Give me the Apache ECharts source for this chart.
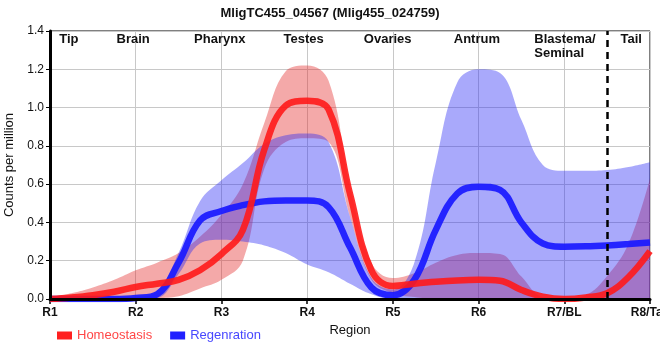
<!DOCTYPE html>
<html><head><meta charset="utf-8">
<script src="https://cdn.jsdelivr.net/npm/echarts@6/dist/echarts.min.js"></script>
<style>html,body{margin:0;padding:0;background:#fff}#c{width:660px;height:360px}</style>
</head><body><div id="c"></div>
<script>
// sample positions along the region axis (1 = R1 ... 8 = R8/Tail)
const xPos = [1,1.25,1.5,1.75,2,2.25,2.5,2.75,3,3.25,3.5,3.75,4,4.25,4.5,4.75,5,5.25,5.5,5.75,6,6.25,6.5,6.75,7,7.25,7.5,7.75,8];
const tickLabels = ['R1','R2','R3','R4','R5','R6','R7/BL','R8/Tail'];
const regionNames = ['Tip','Brain','Pharynx','Testes','Ovaries','Antrum','Blastema/\nSeminal','Tail'];

const homMean  = [0.0,0.008,0.02,0.038,0.063,0.08,0.1,0.15,0.235,0.36,0.78,1.01,1.035,0.99,0.55,0.15,0.068,0.08,0.09,0.097,0.1,0.095,0.047,0.012,0.0,0.008,0.03,0.115,0.25];
const homUpper = [0.01,0.03,0.06,0.1,0.15,0.19,0.24,0.325,0.44,0.6,0.92,1.19,1.22,1.14,0.59,0.19,0.11,0.135,0.19,0.23,0.24,0.235,0.117,0.01,0.003,0.02,0.12,0.29,0.63];
const homLower = [0,0,0,0,0,0.005,0.015,0.055,0.1,0.2,0.68,0.82,0.84,0.82,0.43,0.1,0.03,0.01,0,0,0,0,0,0,0,0,0,0,0];

const regMean  = [0,0,0,0,0.005,0.025,0.19,0.41,0.46,0.49,0.51,0.515,0.515,0.48,0.27,0.06,0.02,0.1,0.36,0.55,0.587,0.57,0.4,0.29,0.273,0.275,0.28,0.287,0.295];
const regUpper = [0.005,0.005,0.005,0.008,0.012,0.04,0.24,0.51,0.62,0.71,0.81,0.855,0.865,0.82,0.43,0.11,0.05,0.19,0.71,1.13,1.2,1.18,0.935,0.7,0.67,0.67,0.674,0.69,0.715];
const regLower = [0,0,0,0,0,0.005,0.13,0.29,0.31,0.3,0.28,0.24,0.18,0.14,0.08,0.025,0,0,0,0,0,0,0,0,0,0,0,0,0];

const FONT = '"Liberation Sans", Arial, sans-serif';
const cats = xPos.map(String);
const diff = (up, lo) => up.map((u, i) => Math.max(0, u - lo[i]));
const isMain = (idx) => Number.isInteger(xPos[idx]);
const SM = 0.4;

const chart = echarts.init(document.getElementById('c'), null, {renderer: 'canvas'});
const option = {
  animation: false,
  backgroundColor: '#fff',
  title: {
    text: 'MligTC455_04567 (Mlig455_024759)',
    left: 'center', top: 2,
    textStyle: {fontFamily: FONT, fontSize: 13, fontWeight: 'bold', color: '#111'}
  },
  legend: {
    left: 52, top: 324, icon: 'rect', itemWidth: 15, itemHeight: 8, itemGap: 18,
    textStyle: {fontFamily: FONT, fontSize: 13},
    data: [
      {name: 'Homeostasis', textStyle: {color: '#ff4747'}},
      {name: 'Regenration', textStyle: {color: '#4747ff'}}
    ]
  },
  grid: {left: 50, right: 10, top: 31, bottom: 61, containLabel: false, outerBoundsMode: 'none',
    show: true, borderColor: '#000', borderWidth: 1, backgroundColor: 'transparent'},
  xAxis: [{
    type: 'category', data: cats, boundaryGap: false,
    name: 'Region', nameLocation: 'middle', nameGap: 25,
    nameTextStyle: {fontFamily: FONT, fontSize: 13, color: '#111'},
    axisLine: {show: false},
    axisTick: {show: true, length: 5, interval: isMain, lineStyle: {color: '#000', width: 1.5}},
    axisLabel: {fontFamily: FONT, fontSize: 12, fontWeight: 'bold', color: '#111', margin: 8,
      interval: isMain, formatter: v => tickLabels[Math.round(Number(v)) - 1] || ''},
    splitLine: {show: true, interval: isMain, lineStyle: {color: '#c8c8c8', width: 1}}
  }, {
    type: 'value', min: 0, max: 1, position: 'bottom', offset: 0, z: 10,
    axisLine: {show: true, onZero: false, lineStyle: {color: '#000', width: 3}},
    axisTick: {show: false}, axisLabel: {show: false}, splitLine: {show: false}
  }],
  yAxis: [{
    type: 'value', min: 0, max: 1.4, interval: 0.2,
    name: 'Counts per million', nameLocation: 'middle', nameGap: 28,
    nameTextStyle: {fontFamily: FONT, fontSize: 13, color: '#111'},
    axisLine: {show: false},
    axisTick: {show: true, length: 4, lineStyle: {color: '#000'}},
    axisLabel: {fontFamily: FONT, fontSize: 12, color: '#111', margin: 6,
      formatter: v => v.toFixed(1)},
    splitLine: {show: true, lineStyle: {color: '#c8c8c8', width: 1}}
  }, {
    type: 'value', min: 0, max: 1.4, position: 'left', offset: 0, z: 10,
    axisLine: {show: true, onZero: false, lineStyle: {color: '#000', width: 3}},
    axisTick: {show: false}, axisLabel: {show: false}, splitLine: {show: false}
  }],
  series: [
    {name: 'homLo', type: 'line', stack: 'hom', smooth: SM, symbol: 'none', silent: true,
      lineStyle: {opacity: 0, width: 0}, data: homLower},
    {name: 'homBand', type: 'line', stack: 'hom', smooth: SM, symbol: 'none', silent: true,
      lineStyle: {opacity: 0, width: 0}, areaStyle: {color: 'rgba(228,40,40,0.40)', opacity: 1},
      data: diff(homUpper, homLower)},
    {name: 'regLo', type: 'line', stack: 'reg', smooth: SM, symbol: 'none', silent: true,
      lineStyle: {opacity: 0, width: 0}, data: regLower},
    {name: 'regBand', type: 'line', stack: 'reg', smooth: SM, symbol: 'none', silent: true,
      lineStyle: {opacity: 0, width: 0}, areaStyle: {color: 'rgba(40,40,245,0.40)', opacity: 1},
      data: diff(regUpper, regLower)},
    {name: 'Regenration', type: 'line', smooth: SM, symbol: 'none', color: '#2020ff',
      lineStyle: {width: 6.5, color: 'rgba(25,25,255,0.92)'}, data: regMean},
    {name: 'Homeostasis', type: 'line', smooth: SM, symbol: 'none', color: '#ff2020',
      lineStyle: {width: 6.5, color: 'rgba(255,25,25,0.9)'}, data: homMean,
      markLine: {silent: true, symbol: 'none', label: {show: false},
        lineStyle: {color: '#000', type: [7, 5], width: 2.5},
        data: [{xAxis: '7.5'}]}}
  ]
};
chart.setOption(option);

// region annotations anchored to the region axis (in units of R-positions)
const regionAnchor = [1.22, 1.97, 2.98, 3.96, 4.94, 5.98, 6.65, 7.78];
const p1 = chart.convertToPixel({xAxisIndex: 0}, '1');
const p8 = chart.convertToPixel({xAxisIndex: 0}, '8');
const g = regionNames.map((name, i) => {
  const px = p1 + (regionAnchor[i] - 1) / 7 * (p8 - p1);
  const left = name.indexOf('\n') >= 0;
  return {
    type: 'text', z: 100,
    style: {text: name, x: px, y: 32, font: 'bold 13px ' + FONT, fill: '#111',
      textAlign: left ? 'left' : 'center', textVerticalAlign: 'top', lineHeight: 14}
  };
});
chart.setOption({graphic: g});
</script>
</body></html>
